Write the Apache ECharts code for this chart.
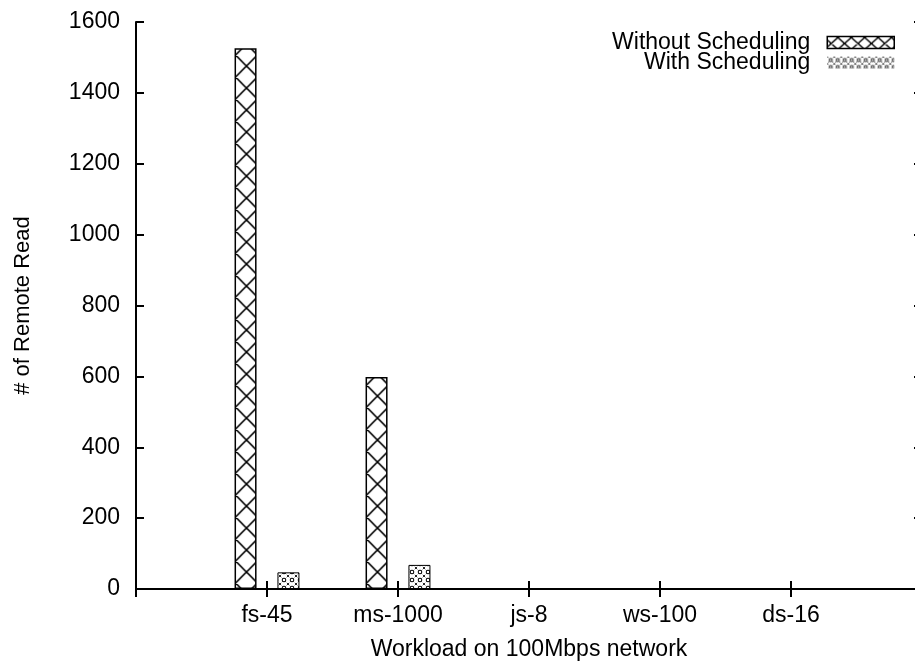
<!DOCTYPE html>
<html><head><meta charset="utf-8">
<script src="https://cdn.jsdelivr.net/npm/echarts@6/dist/echarts.min.js"></script>
<style>html,body{margin:0;padding:0;background:#fff}#c{width:915px;height:661px}</style>
</head><body><div id="c"></div>
<script>
// ---- data ----
const categories = ['fs-45', 'ms-1000', 'js-8', 'ws-100', 'ds-16'];
const withoutScheduling = [1526, 598, 0, 0, 0];
const withScheduling = [47, 68, 0, 0, 0];
const seriesNames = ['Without Scheduling', 'With Scheduling'];
const yTicks = [0, 200, 400, 600, 800, 1000, 1200, 1400, 1600];
const xTitle = 'Workload on 100Mbps network';
const yTitle = '# of Remote Read';

// ---- patterns ----
function crossPattern(w, h, periods, lw) {
  const c = document.createElement('canvas');
  c.width = w; c.height = h;
  const g = c.getContext('2d');
  g.fillStyle = '#fff'; g.fillRect(0, 0, w, h);
  g.strokeStyle = '#000'; g.lineWidth = lw;
  const d = w / periods;
  g.beginPath();
  for (let k = -2; k <= periods + 2; k++) {
    g.moveTo(k * d, 0); g.lineTo(k * d + d, h);
    g.moveTo(k * d, 0); g.lineTo(k * d - d, h);
  }
  g.stroke();
  return c;
}
function dotPattern(s, r) {
  const c = document.createElement('canvas');
  c.width = s; c.height = s;
  const g = c.getContext('2d');
  g.fillStyle = '#fff'; g.fillRect(0, 0, s, s);
  g.strokeStyle = '#000'; g.lineWidth = 1;
  g.setLineDash([1.2, 1.3]);
  g.beginPath();
  g.moveTo(0, 0); g.lineTo(s, s);
  g.moveTo(s, 0); g.lineTo(0, s);
  g.stroke();
  g.setLineDash([]);
  g.beginPath();
  g.arc(s / 2, s / 2, r, 0, Math.PI * 2);
  g.fillStyle = '#fff'; g.fill();
  g.lineWidth = 1; g.stroke();
  return c;
}
const crossBar = { image: crossPattern(131, 22, 6, 1.6), repeat: 'repeat', x: 6.3 };
const crossLegend = { image: crossPattern(67, 12, 5, 1.4), repeat: 'repeat', x: 10.6, y: 37 };
const dotBar = { image: dotPattern(8, 1.8), repeat: 'repeat' };
const dotLegend = { image: dotPattern(7, 1.5), repeat: 'repeat' };

const xCats = [''].concat(categories, ['']);
const pad = arr => [null].concat(arr, [null]);

const font = 'Liberation Sans, Arial, Helvetica, sans-serif';
const ls = () => ({ color: '#000', width: 2 });

const chart = echarts.init(document.getElementById('c'), null, { renderer: 'canvas' });
chart.setOption({
  animation: false,
  backgroundColor: '#fff',
  textStyle: { fontFamily: font, color: '#000' },
  grid: { left: 136, top: 22, width: 786, height: 567, containLabel: false, outerBoundsMode: 'none' },
  legend: {
    orient: 'vertical', align: 'right', right: 20, top: 31, padding: 0,
    itemWidth: 67, itemHeight: 12, itemGap: -3,
    icon: 'rect',
    textStyle: { fontFamily: font, fontSize: 23, color: '#000', padding: [0, 12, 0, 0] },
    data: [
      { name: seriesNames[0], itemStyle: { color: crossLegend, borderColor: '#000', borderWidth: 1.5 } },
      { name: seriesNames[1], itemStyle: { color: dotLegend, borderWidth: 0 } }
    ]
  },
  xAxis: [{
    type: 'category', data: xCats, boundaryGap: false, position: 'bottom',
    name: xTitle, nameLocation: 'middle', nameGap: 49,
    nameTextStyle: { fontFamily: font, fontSize: 23, color: '#000' },
    axisLine: { show: true, lineStyle: ls() },
    axisTick: { show: true, inside: true, length: 8, lineStyle: ls() },
    axisLabel: { fontFamily: font, fontSize: 23, color: '#000', margin: 15, interval: 0 },
    splitLine: { show: false }
  }, {
    type: 'category', data: xCats, boundaryGap: false, position: 'top',
    axisLine: { show: true, lineStyle: ls() },
    axisTick: { show: true, inside: true, length: 8, lineStyle: ls() },
    axisLabel: { show: false }, splitLine: { show: false }
  }],
  yAxis: [{
    type: 'value', min: yTicks[0], max: yTicks[yTicks.length - 1], interval: yTicks[1] - yTicks[0],
    name: yTitle, nameLocation: 'middle', nameGap: 102, nameRotate: 90,
    nameTextStyle: { fontFamily: font, fontSize: 22, color: '#000' },
    axisLine: { show: true, lineStyle: ls() },
    axisTick: { show: true, inside: true, length: 8, lineStyle: ls() },
    axisLabel: { fontFamily: font, fontSize: 23, color: '#000', margin: 16, formatter: v => String(v) },
    splitLine: { show: false }
  }, {
    type: 'value', min: yTicks[0], max: yTicks[yTicks.length - 1], interval: yTicks[1] - yTicks[0],
    position: 'right',
    axisLine: { show: true, lineStyle: ls() },
    axisTick: { show: true, inside: true, length: 8, lineStyle: ls() },
    axisLabel: { show: false }, splitLine: { show: false }
  }],
  series: [{
    name: seriesNames[0], type: 'bar', xAxisIndex: 0, yAxisIndex: 0,
    data: pad(withoutScheduling), barWidth: 22, barGap: '95%',
    itemStyle: { color: crossBar, borderColor: '#000', borderWidth: 1.5 }
  }, {
    name: seriesNames[1], type: 'bar', xAxisIndex: 0, yAxisIndex: 0,
    data: pad(withScheduling), barWidth: 22, barGap: '95%',
    itemStyle: { color: dotBar, borderColor: '#000', borderWidth: 1 }
  }]
});
</script>
</body></html>
